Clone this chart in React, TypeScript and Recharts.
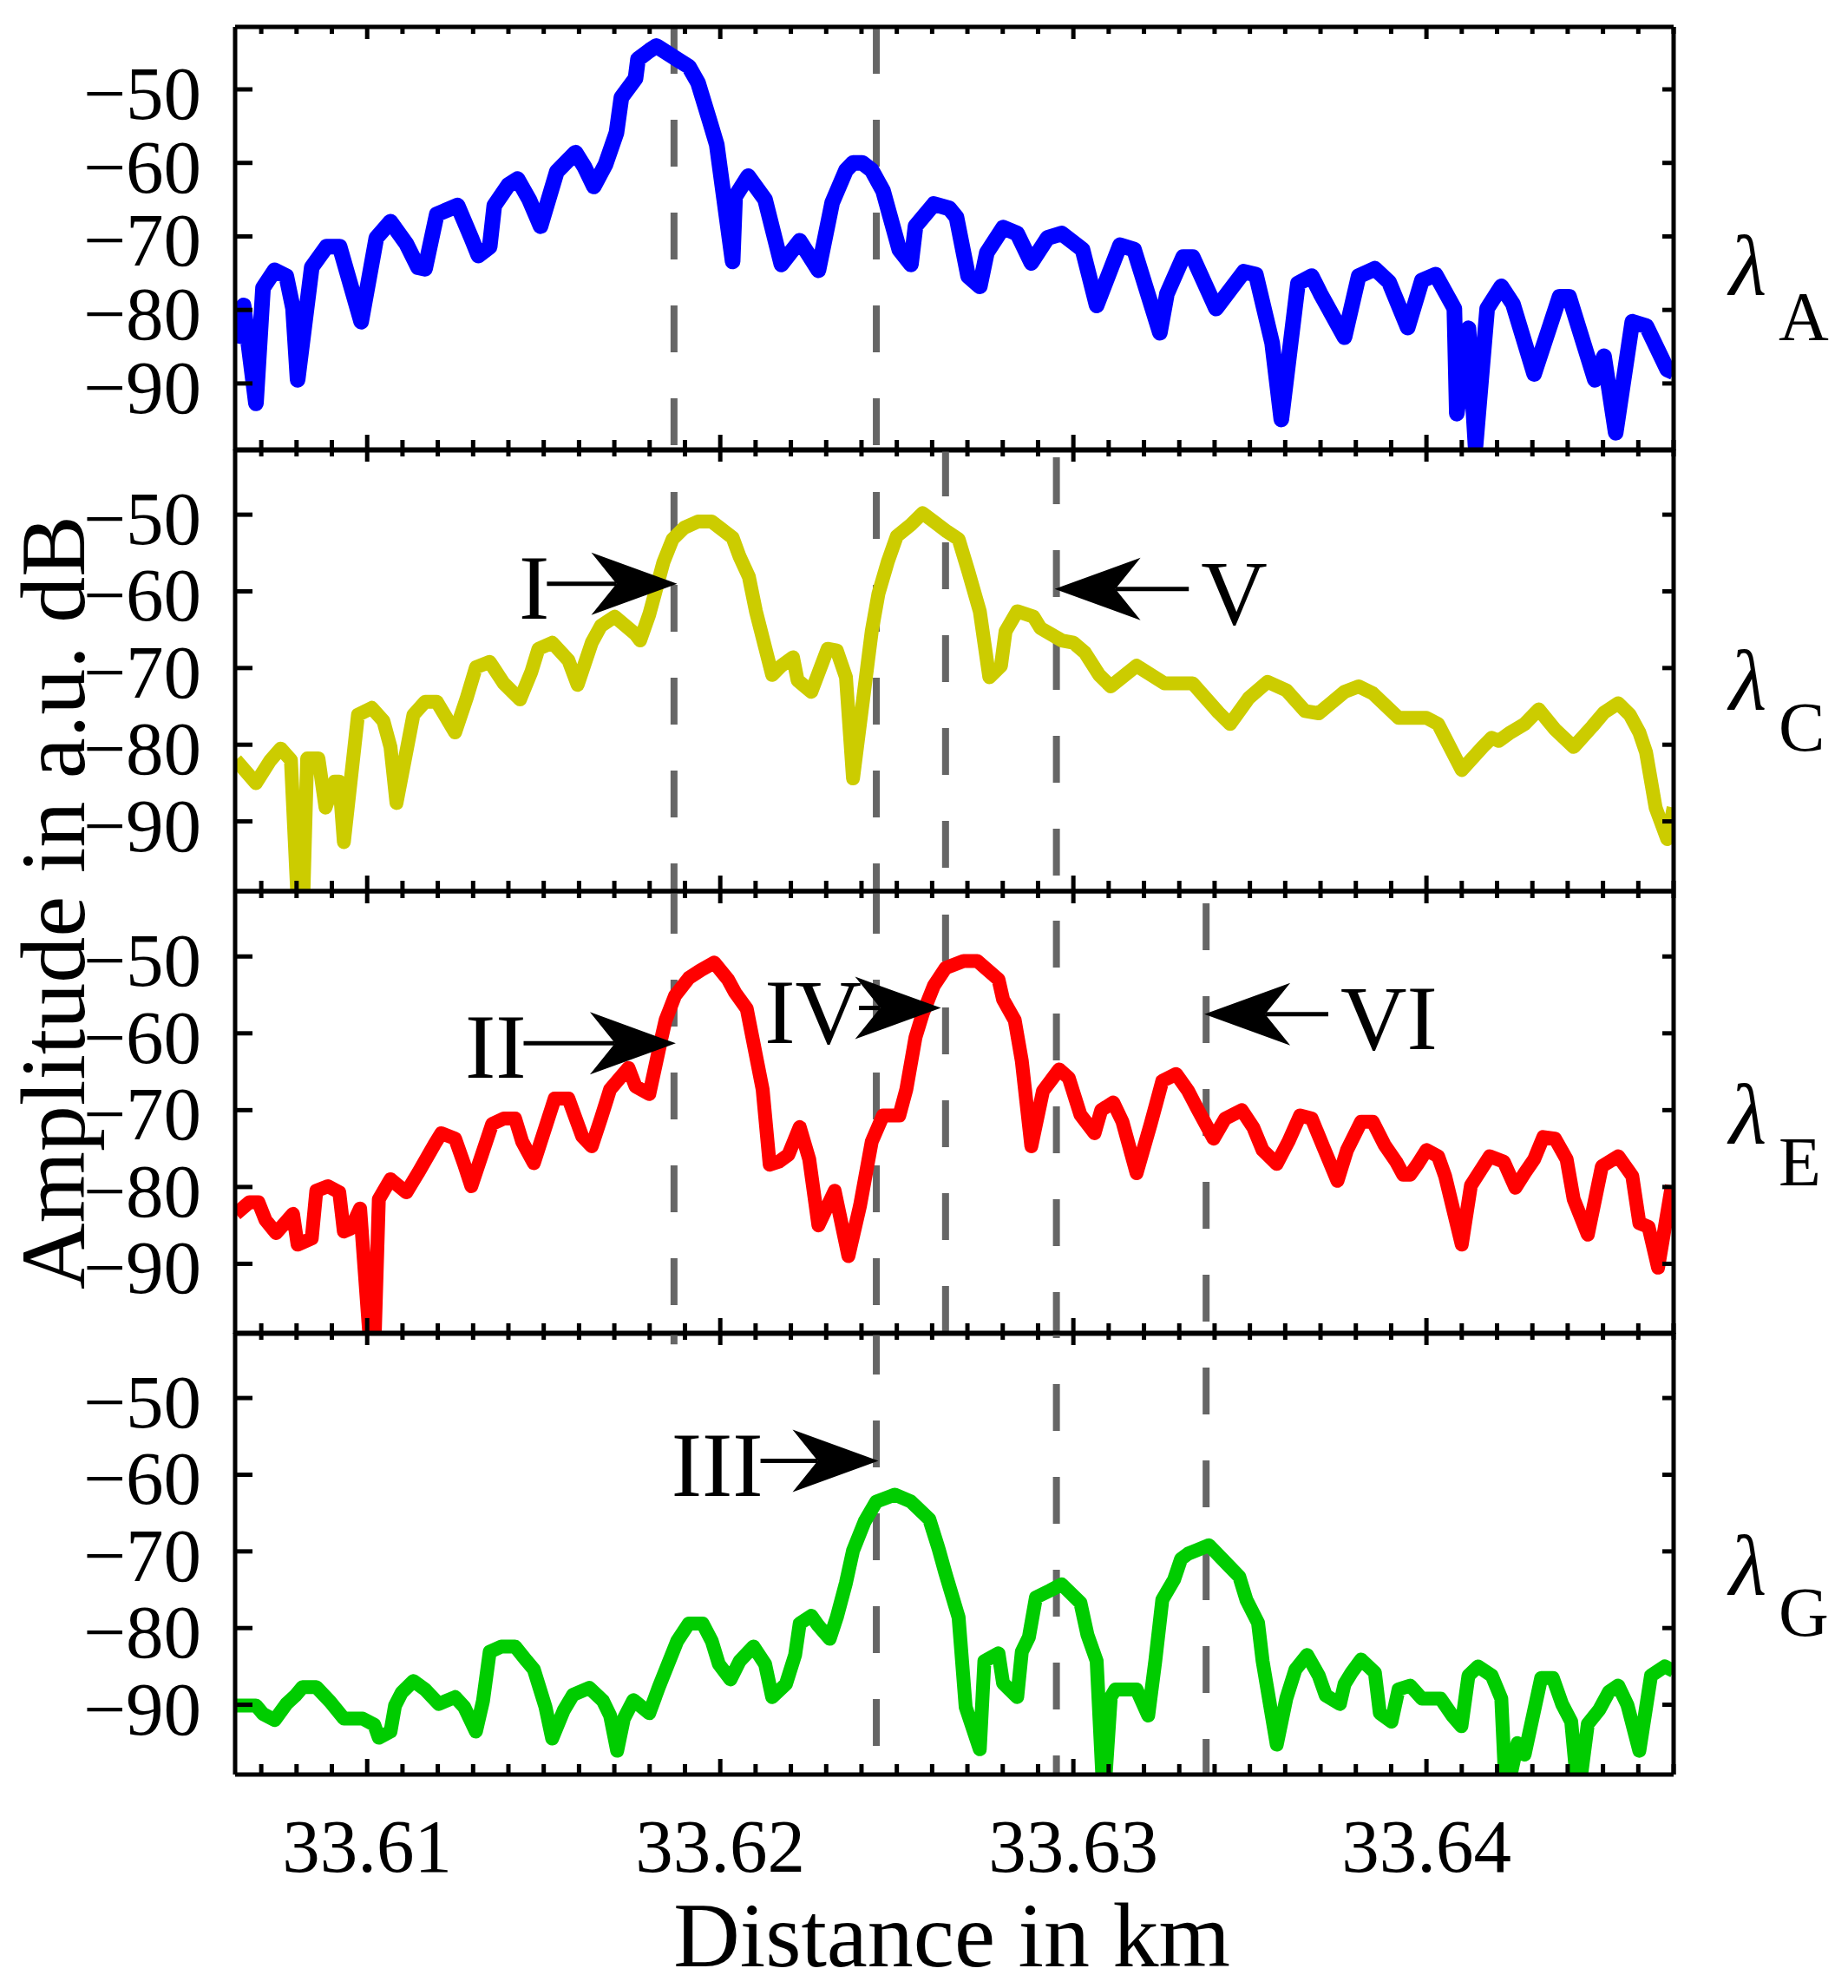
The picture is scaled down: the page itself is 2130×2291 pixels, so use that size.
import React from "react";
import { LineChart, Line, XAxis, YAxis, ReferenceLine } from "recharts";

const W = 2130;
const H = 2291;
const FONT = '"Liberation Serif", "Times New Roman", Times, serif';

const distanceDomain: [number, number] = [33.60626, 33.647];
const ampDomain: [number, number] = [-99.1, -41.5];
const majorTicks = [33.61, 33.62, 33.63, 33.64];
const minorTicks = [
  33.607, 33.608, 33.609, 33.61, 33.611, 33.612, 33.613, 33.614, 33.615, 33.616,
  33.617, 33.618, 33.619, 33.62, 33.621, 33.622, 33.623, 33.624, 33.625, 33.626,
  33.627, 33.628, 33.629, 33.63, 33.631, 33.632, 33.633, 33.634, 33.635, 33.636,
  33.637, 33.638, 33.639, 33.64, 33.641, 33.642, 33.643, 33.644, 33.645, 33.646,
  33.647,
];
const ampTicks = [-90, -80, -70, -60, -50];

// distance in km, amplitude in dB
const traceA: [number, number][] = [
  [33.60628, -84.5], [33.6065, -79.4], [33.60685, -92.7], [33.60705, -77.0], [33.60738, -74.6],
  [33.60771, -75.4], [33.6079, -79.8], [33.60803, -89.5], [33.60843, -74.2], [33.60885, -71.4],
  [33.60922, -71.4], [33.60983, -81.6], [33.61026, -70.2], [33.61066, -68.0], [33.61111, -71.0],
  [33.61144, -74.2], [33.61164, -74.4], [33.61197, -67.0], [33.61256, -65.8], [33.61295, -70.2],
  [33.61315, -72.6], [33.61347, -71.4], [33.6136, -65.8], [33.614, -63.0], [33.61426, -62.2],
  [33.61459, -65.0], [33.61491, -68.6], [33.61537, -61.2], [33.6159, -58.6], [33.61616, -60.6],
  [33.61642, -63.2], [33.61675, -60.2], [33.61706, -55.9], [33.6172, -51.1], [33.6176, -48.5],
  [33.61767, -45.9], [33.618, -44.7], [33.61819, -44.1], [33.61878, -45.9], [33.61911, -46.9],
  [33.61937, -49.1], [33.6197, -54.3], [33.6199, -57.5], [33.62035, -73.4], [33.62042, -64.6],
  [33.62079, -61.8], [33.62127, -65.0], [33.62173, -73.8], [33.62225, -70.6], [33.62278, -74.6],
  [33.62317, -65.4], [33.62356, -61.0], [33.62376, -60.0], [33.62402, -60.0], [33.62429, -61.0],
  [33.62461, -63.8], [33.62507, -71.8], [33.6254, -73.8], [33.62553, -68.6], [33.62605, -65.6],
  [33.62649, -66.2], [33.62669, -67.4], [33.62702, -75.4], [33.62735, -76.8], [33.62755, -72.2],
  [33.62801, -68.8], [33.62841, -69.6], [33.62881, -73.6], [33.62927, -70.2], [33.62967, -69.6],
  [33.63026, -71.8], [33.63066, -79.4], [33.63132, -71.2], [33.63172, -71.8], [33.63245, -83.1],
  [33.63265, -77.8], [33.63311, -72.8], [33.63338, -72.8], [33.63404, -79.8], [33.63483, -74.8],
  [33.63517, -75.2], [33.63563, -84.5], [33.63589, -94.9], [33.63636, -76.4], [33.63675, -75.4],
  [33.637, -77.8], [33.63768, -83.7], [33.63808, -75.4], [33.63854, -74.4], [33.63894, -76.2],
  [33.63947, -82.4], [33.63987, -76.0], [33.64026, -75.2], [33.64079, -79.8], [33.64086, -94.1],
  [33.64119, -82.5], [33.64139, -98.5], [33.64172, -79.8], [33.64212, -76.8], [33.64245, -79.2],
  [33.64305, -88.7], [33.64377, -78.2], [33.64404, -78.2], [33.64477, -89.5], [33.64503, -86.3],
  [33.64536, -96.7], [33.64583, -81.6], [33.64623, -82.2], [33.64682, -88.1], [33.647, -88.5],
];

const traceC: [number, number][] = [
  [33.60628, -82.0], [33.60685, -85.0], [33.60725, -82.1], [33.60755, -80.5], [33.60784, -82.0],
  [33.60813, -110.0], [33.6083, -81.8], [33.60862, -81.8], [33.60882, -88.2], [33.60908, -84.8],
  [33.60921, -84.8], [33.60934, -92.7], [33.60974, -76.1], [33.61013, -75.2], [33.61046, -76.9],
  [33.61066, -80.3], [33.61083, -87.6], [33.61131, -76.1], [33.61164, -74.4], [33.61197, -74.4],
  [33.61249, -78.4], [33.61282, -73.9], [33.61308, -69.9], [33.61347, -69.2], [33.61387, -72.0],
  [33.61433, -74.1], [33.61465, -70.5], [33.61485, -67.5], [33.61524, -66.7], [33.6157, -69.0],
  [33.61596, -72.2], [33.61636, -66.7], [33.61662, -64.5], [33.61701, -63.3], [33.6176, -65.6],
  [33.61773, -66.4], [33.61799, -63.0], [33.61839, -56.2], [33.61865, -53.2], [33.61898, -51.7],
  [33.61937, -50.9], [33.61976, -50.9], [33.62035, -53.0], [33.62055, -55.5], [33.62081, -58.1],
  [33.62101, -62.6], [33.62147, -70.9], [33.62173, -69.7], [33.62206, -68.6], [33.62219, -71.6],
  [33.62258, -73.1], [33.62304, -67.5], [33.6233, -67.7], [33.62356, -71.2], [33.62376, -84.4],
  [33.62429, -65.2], [33.62448, -60.3], [33.62474, -56.2], [33.625, -52.8], [33.6254, -51.3],
  [33.62573, -49.8], [33.62605, -50.9], [33.62642, -52.2], [33.62675, -53.2], [33.62702, -57.3],
  [33.62735, -62.6], [33.62762, -71.2], [33.62795, -69.7], [33.62808, -65.2], [33.62841, -62.6],
  [33.62887, -63.3], [33.62907, -64.8], [33.62967, -66.4], [33.63, -66.7], [33.63033, -68.0],
  [33.63073, -70.9], [33.63106, -72.4], [33.63179, -69.7], [33.63258, -72.0], [33.63338, -72.0],
  [33.63411, -75.8], [33.63444, -77.3], [33.63497, -73.9], [33.6355, -71.8], [33.63603, -72.9],
  [33.63656, -75.6], [33.63695, -75.9], [33.63768, -73.1], [33.63808, -72.4], [33.63848, -73.3],
  [33.63921, -76.5], [33.64, -76.5], [33.64033, -77.3], [33.64053, -79.1], [33.641, -83.3],
  [33.64159, -80.3], [33.64185, -79.1], [33.64205, -79.5], [33.64238, -78.4], [33.64278, -77.3],
  [33.64318, -75.4], [33.64364, -78.0], [33.64417, -80.3], [33.6447, -77.6], [33.64503, -75.8],
  [33.64543, -74.6], [33.64576, -76.1], [33.64603, -78.4], [33.64622, -81.0], [33.64649, -88.2],
  [33.64682, -92.3], [33.647, -88.2],
];

const traceE: [number, number][] = [
  [33.60628, -83.5], [33.60666, -82.0], [33.60692, -82.0], [33.60712, -84.3], [33.60742, -86.0],
  [33.6079, -83.5], [33.60803, -87.5], [33.60843, -86.7], [33.60856, -80.5], [33.60889, -79.9],
  [33.60921, -80.7], [33.60934, -85.8], [33.60954, -85.4], [33.6098, -82.8], [33.61017, -106.0],
  [33.61033, -81.6], [33.61066, -79.0], [33.61111, -80.7], [33.61144, -78.2], [33.6119, -74.5],
  [33.6121, -73.0], [33.61249, -73.7], [33.61275, -77.1], [33.61295, -79.9], [33.61354, -71.8],
  [33.61387, -71.1], [33.61419, -71.1], [33.61439, -74.1], [33.61472, -76.9], [33.61531, -68.5],
  [33.6157, -68.5], [33.61609, -73.4], [33.61636, -74.7], [33.61662, -71.1], [33.61688, -67.3],
  [33.6174, -64.5], [33.6176, -66.9], [33.61799, -67.9], [33.61832, -60.9], [33.61845, -58.3],
  [33.61872, -55.1], [33.61911, -52.8], [33.61944, -51.8], [33.61983, -50.8], [33.62022, -53.0],
  [33.62042, -54.7], [33.62075, -56.8], [33.6212, -67.3], [33.6214, -77.1], [33.62166, -76.7],
  [33.62193, -75.8], [33.62225, -72.2], [33.62252, -76.4], [33.62278, -85.0], [33.62324, -80.5],
  [33.62363, -89.0], [33.62396, -82.4], [33.62429, -74.1], [33.62461, -70.7], [33.62507, -70.7],
  [33.62527, -67.3], [33.62553, -60.5], [33.62573, -57.5], [33.62605, -53.8], [33.62638, -51.5],
  [33.62689, -50.6], [33.62728, -50.6], [33.62788, -53.0], [33.62801, -55.6], [33.62834, -58.3],
  [33.62854, -63.6], [33.62881, -74.7], [33.62914, -67.5], [33.6296, -64.7], [33.62987, -65.8],
  [33.6302, -70.6], [33.6306, -73.0], [33.63079, -70.0], [33.63113, -69.0], [33.63139, -71.5],
  [33.63179, -78.2], [33.63219, -71.8], [33.63252, -66.2], [33.63291, -65.3], [33.63325, -67.5],
  [33.63351, -69.8], [33.63397, -73.7], [33.6343, -71.1], [33.63477, -70.0], [33.6351, -72.3],
  [33.63536, -75.2], [33.63576, -77.0], [33.63609, -74.1], [33.63642, -70.7], [33.63675, -71.1],
  [33.63709, -74.9], [33.63748, -79.2], [33.63775, -75.2], [33.63815, -71.5], [33.63848, -71.5],
  [33.63881, -74.5], [33.63914, -76.7], [33.63934, -78.4], [33.63954, -78.4], [33.63974, -77.1],
  [33.64, -75.2], [33.64033, -76.0], [33.64053, -78.6], [33.641, -87.5], [33.64126, -79.8],
  [33.64179, -76.0], [33.64219, -76.7], [33.64252, -80.1], [33.64278, -78.2], [33.64305, -76.4],
  [33.64331, -73.5], [33.64364, -73.7], [33.64397, -76.4], [33.64417, -81.6], [33.64457, -86.2],
  [33.64497, -77.3], [33.64543, -76.0], [33.64583, -78.6], [33.64603, -84.7], [33.64629, -85.2],
  [33.64656, -90.5], [33.64695, -79.8],
];

const traceG: [number, number][] = [
  [33.60628, -90.1], [33.60685, -90.1], [33.60705, -91.2], [33.60738, -92.0], [33.60771, -89.9],
  [33.60797, -88.8], [33.60817, -87.7], [33.60856, -87.7], [33.60895, -89.6], [33.60934, -91.8],
  [33.60987, -91.8], [33.6102, -92.6], [33.61033, -94.3], [33.61066, -93.5], [33.61079, -90.1],
  [33.61098, -88.4], [33.61131, -86.9], [33.61164, -88.0], [33.61203, -89.9], [33.61249, -89.0],
  [33.61275, -90.3], [33.61308, -93.5], [33.61328, -89.5], [33.61347, -83.1], [33.6138, -82.4],
  [33.61419, -82.4], [33.61452, -84.3], [33.61472, -85.4], [33.61505, -90.3], [33.61524, -94.4],
  [33.61557, -90.7], [33.61583, -88.7], [33.61629, -87.8], [33.61668, -89.5], [33.61688, -91.4],
  [33.61708, -96.0], [33.61727, -91.8], [33.61754, -89.4], [33.61799, -91.1], [33.61826, -87.7],
  [33.61852, -84.7], [33.61878, -81.7], [33.61911, -79.4], [33.6195, -79.4], [33.61976, -81.7],
  [33.61996, -84.7], [33.62029, -86.7], [33.62055, -84.3], [33.62094, -82.4], [33.62127, -84.7],
  [33.62147, -89.0], [33.62186, -87.3], [33.62212, -83.5], [33.62225, -79.4], [33.62258, -78.4],
  [33.62278, -79.7], [33.6231, -81.4], [33.6233, -78.6], [33.62356, -74.1], [33.62376, -69.9],
  [33.62409, -66.1], [33.62442, -63.5], [33.62494, -62.6], [33.6254, -63.5], [33.62592, -65.8],
  [33.62618, -69.6], [33.62638, -72.9], [33.62675, -78.6], [33.62695, -90.3], [33.62735, -95.8],
  [33.62748, -84.3], [33.62788, -83.3], [33.62801, -87.2], [33.62841, -89.0], [33.62854, -83.1],
  [33.62874, -81.2], [33.62894, -76.0], [33.62934, -75.1], [33.62967, -74.3], [33.6302, -76.7],
  [33.6304, -80.9], [33.63066, -84.3], [33.63086, -103.0], [33.63106, -89.0], [33.63119, -88.0],
  [33.63179, -88.0], [33.63212, -91.4], [33.63232, -84.3], [33.63252, -76.3], [33.63285, -73.7],
  [33.63305, -71.0], [33.63325, -70.3], [33.63384, -69.2], [33.63424, -71.1], [33.6347, -73.3],
  [33.6349, -76.3], [33.63523, -79.3], [33.63536, -84.3], [33.63576, -95.2], [33.63603, -89.2],
  [33.63629, -85.4], [33.63662, -83.5], [33.63695, -86.2], [33.63715, -88.8], [33.63755, -89.9],
  [33.63768, -87.3], [33.63788, -85.8], [33.63815, -84.1], [33.63854, -85.8], [33.63868, -91.1],
  [33.63901, -92.2], [33.63921, -88.0], [33.63954, -87.5], [33.63987, -89.2], [33.6404, -89.2],
  [33.64073, -91.4], [33.64099, -92.8], [33.64119, -86.2], [33.64146, -85.0], [33.64185, -86.2],
  [33.64212, -89.2], [33.64225, -102.0], [33.64258, -95.0], [33.64278, -96.5], [33.64325, -86.5],
  [33.64358, -86.5], [33.64384, -89.9], [33.6441, -92.2], [33.6443, -102.0], [33.64457, -92.5],
  [33.6449, -90.6], [33.64517, -88.3], [33.64543, -87.5], [33.64569, -90.0], [33.64603, -96.0],
  [33.64636, -86.2], [33.64675, -85.0], [33.647, -85.6],
];

// dashed guide positions (km)
const guideKm = [33.61869, 33.62442, 33.62638, 33.62952, 33.63376];

// annotated arrows: label, tip distance, tip amplitude, tail distance
const arrowsC = [
  { label: "I", tip: 33.61878, amp: -59.0, tail: 33.61509 },
  { label: "V", tip: 33.62947, amp: -59.7, tail: 33.63327 },
];
const arrowsE = [
  { label: "II", tip: 33.61874, amp: -61.3, tail: 33.61443 },
  { label: "IV", tip: 33.62625, amp: -56.7, tail: 33.62393 },
  { label: "VI", tip: 33.63371, amp: -57.5, tail: 33.63722 },
];
const arrowsG = [{ label: "III", tip: 33.62448, amp: -58.2, tail: 33.62114 }];

const PLOT_LEFT = 271;
const PLOT_RIGHT = 1929;

type Guide = { at: number; offset: number; to?: number };
type Arrow = { label: string; tip: number; amp: number; tail: number };

const panels: {
  name: string;
  trace: [number, number][];
  color: string;
  width: number;
  top: number;
  bottom: number;
  guides: Guide[];
  arrows: Arrow[];
  labelY: [number, number];
  xLabels: boolean;
}[] = [
  {
    name: "A", trace: traceA, color: "#0000ff", width: 18, top: 31, bottom: 519,
    guides: [{ at: guideKm[0], offset: 0 }, { at: guideKm[1], offset: 0 }],
    arrows: [], labelY: [340, 392], xLabels: false,
  },
  {
    name: "C", trace: traceC, color: "#cccc00", width: 16, top: 518, bottom: 1027,
    guides: [
      { at: guideKm[0], offset: 58 }, { at: guideKm[1], offset: 58 },
      { at: guideKm[2], offset: 0 }, { at: guideKm[3], offset: 98 },
    ],
    arrows: arrowsC, labelY: [818, 865], xLabels: false,
  },
  {
    name: "E", trace: traceE, color: "#ff0000", width: 16, top: 1027, bottom: 1537,
    guides: [
      { at: guideKm[0], offset: 5 }, { at: guideKm[1], offset: 5 },
      { at: guideKm[2], offset: 80 }, { at: guideKm[3], offset: 73 },
      { at: guideKm[4], offset: 93 },
    ],
    arrows: arrowsE, labelY: [1318, 1366], xLabels: false,
  },
  {
    name: "G", trace: traceG, color: "#00cc00", width: 16, top: 1536, bottom: 2045,
    guides: [
      { at: guideKm[0], offset: 0, to: -43.0 },
      { at: guideKm[1], offset: 6 }, { at: guideKm[3], offset: 48 },
      { at: guideKm[4], offset: 67 },
    ],
    arrows: arrowsG, labelY: [1838, 1885], xLabels: true,
  },
];

const isMajor = (v: number) => majorTicks.some((m) => Math.abs(m - v) < 1e-6);

function BottomTick(props: any) {
  const { x, y, payload, showLabel } = props;
  const major = isMajor(payload.value);
  return (
    <g>
      <line x1={x} x2={x} y1={y} y2={y - (major ? 18 : 12)} stroke="#000" strokeWidth={5} />
      {showLabel && major && (
        <text x={x} y={y + 112} textAnchor="middle" fontSize={87} fontFamily={FONT} fill="#000">
          {payload.value.toFixed(2)}
        </text>
      )}
    </g>
  );
}

function TopTick(props: any) {
  const { x, y, payload } = props;
  const major = isMajor(payload.value);
  return <line x1={x} x2={x} y1={y} y2={y + (major ? 14 : 8)} stroke="#000" strokeWidth={5} />;
}

function LeftTick(props: any) {
  const { x, y, payload } = props;
  return (
    <g>
      <line x1={x} x2={x + 20} y1={y} y2={y} stroke="#000" strokeWidth={5} />
      <text x={x - 39} y={y + 34} textAnchor="end" fontSize={87} fontFamily={FONT} fill="#000">
        {`\u2212${Math.abs(payload.value)}`}
      </text>
    </g>
  );
}

function RightTick(props: any) {
  const { x, y } = props;
  return <line x1={x} x2={x - 13} y1={y} y2={y} stroke="#000" strokeWidth={5} />;
}

function ArrowShape(props: any) {
  const { x1, x2, y2, label } = props;
  const dir = x2 > x1 ? 1 : -1;
  const y = y2;
  const back = x2 - dir * 99;
  const notch = x2 - dir * 70;
  return (
    <g>
      <line x1={x1} y1={y} x2={notch} y2={y} stroke="#000" strokeWidth={5} />
      <polygon points={`${x2},${y} ${back},${y - 36} ${notch},${y} ${back},${y + 36}`} fill="#000" />
      <text
        x={dir > 0 ? x1 + 3 : x1 + 14}
        y={y + 40}
        textAnchor={dir > 0 ? "end" : "start"}
        fontSize={106}
        fontFamily={FONT}
        fill="#000"
      >
        {label}
      </text>
    </g>
  );
}

const frame = { stroke: "#000", strokeWidth: 5 };
// axes need a non-zero box to be drawn; 1px each, taken off the margins
const AX = 1;

function Panel({ p }: { p: (typeof panels)[number] }) {
  const rows = p.trace.map(([x, y]) => ({ x, y }));
  return (
    <div style={{ position: "absolute", left: 0, top: 0 }}>
      <LineChart
        width={W}
        height={H}
        margin={{
          top: p.top - AX,
          bottom: H - p.bottom - AX,
          left: PLOT_LEFT - AX,
          right: W - PLOT_RIGHT - AX,
        }}
      >
        <XAxis
          dataKey="x"
          type="number"
          domain={distanceDomain}
          allowDataOverflow
          ticks={minorTicks}
          interval={0}
          height={AX}
          tickSize={0}
          tickMargin={0}
          tickLine={false}
          axisLine={frame}
          tick={(t: any) => <BottomTick {...t} showLabel={p.xLabels} />}
        />
        <XAxis
          xAxisId="top"
          orientation="top"
          dataKey="x"
          type="number"
          domain={distanceDomain}
          allowDataOverflow
          ticks={minorTicks}
          interval={0}
          height={AX}
          tickSize={0}
          tickMargin={0}
          tickLine={false}
          axisLine={frame}
          tick={(t: any) => <TopTick {...t} />}
        />
        <YAxis
          type="number"
          domain={ampDomain}
          allowDataOverflow
          ticks={ampTicks}
          interval={0}
          width={AX}
          tickSize={0}
          tickMargin={0}
          tickLine={false}
          axisLine={frame}
          tick={(t: any) => <LeftTick {...t} />}
        />
        <YAxis
          yAxisId="right"
          orientation="right"
          type="number"
          domain={ampDomain}
          allowDataOverflow
          ticks={ampTicks}
          interval={0}
          width={AX}
          tickSize={0}
          tickMargin={0}
          tickLine={false}
          axisLine={frame}
          tick={(t: any) => <RightTick {...t} />}
        />
        {p.guides.map((g, i) => (
          <ReferenceLine
            key={`g${i}`}
            segment={[
              { x: g.at, y: ampDomain[1] },
              { x: g.at, y: g.to ?? ampDomain[0] },
            ]}
            stroke="#666666"
            strokeWidth={8}
            strokeDasharray={g.to ? undefined : "54 53"}
            strokeDashoffset={g.offset}
          />
        ))}
        <Line
          data={rows}
          dataKey="y"
          type="linear"
          stroke={p.color}
          strokeWidth={p.width}
          strokeLinejoin="round"
          dot={false}
          activeDot={false}
          isAnimationActive={false}
        />
        {p.arrows.map((a) => (
          <ReferenceLine
            key={a.label}
            segment={[
              { x: a.tail, y: a.amp },
              { x: a.tip, y: a.amp },
            ]}
            shape={(s: any) => <ArrowShape {...s} label={a.label} />}
          />
        ))}
      </LineChart>
    </div>
  );
}

export default function App() {
  return (
    <div style={{ position: "absolute", left: 0, top: 0, width: W, height: H, background: "#fff" }}>
      {panels.map((p) => (
        <Panel key={p.name} p={p} />
      ))}
      <svg
        width={W}
        height={H}
        style={{ position: "absolute", left: 0, top: 0, pointerEvents: "none" }}
      >
        <text
          transform="translate(97,1040) rotate(-90)"
          textAnchor="middle"
          fontSize={106}
          fontFamily={FONT}
          fill="#000"
        >
          Amplitude in a.u. dB
        </text>
        <text x={1097} y={2266} textAnchor="middle" fontSize={106} fontFamily={FONT} fill="#000">
          Distance in km
        </text>
        {panels.map((p) => (
          <g key={p.name}>
            <text x={1993} y={p.labelY[0]} fontSize={100} fontStyle="italic" fontFamily={FONT} fill="#000">
              λ
            </text>
            <text x={2050} y={p.labelY[1]} fontSize={80} fontFamily={FONT} fill="#000">
              {p.name}
            </text>
          </g>
        ))}
      </svg>
    </div>
  );
}
